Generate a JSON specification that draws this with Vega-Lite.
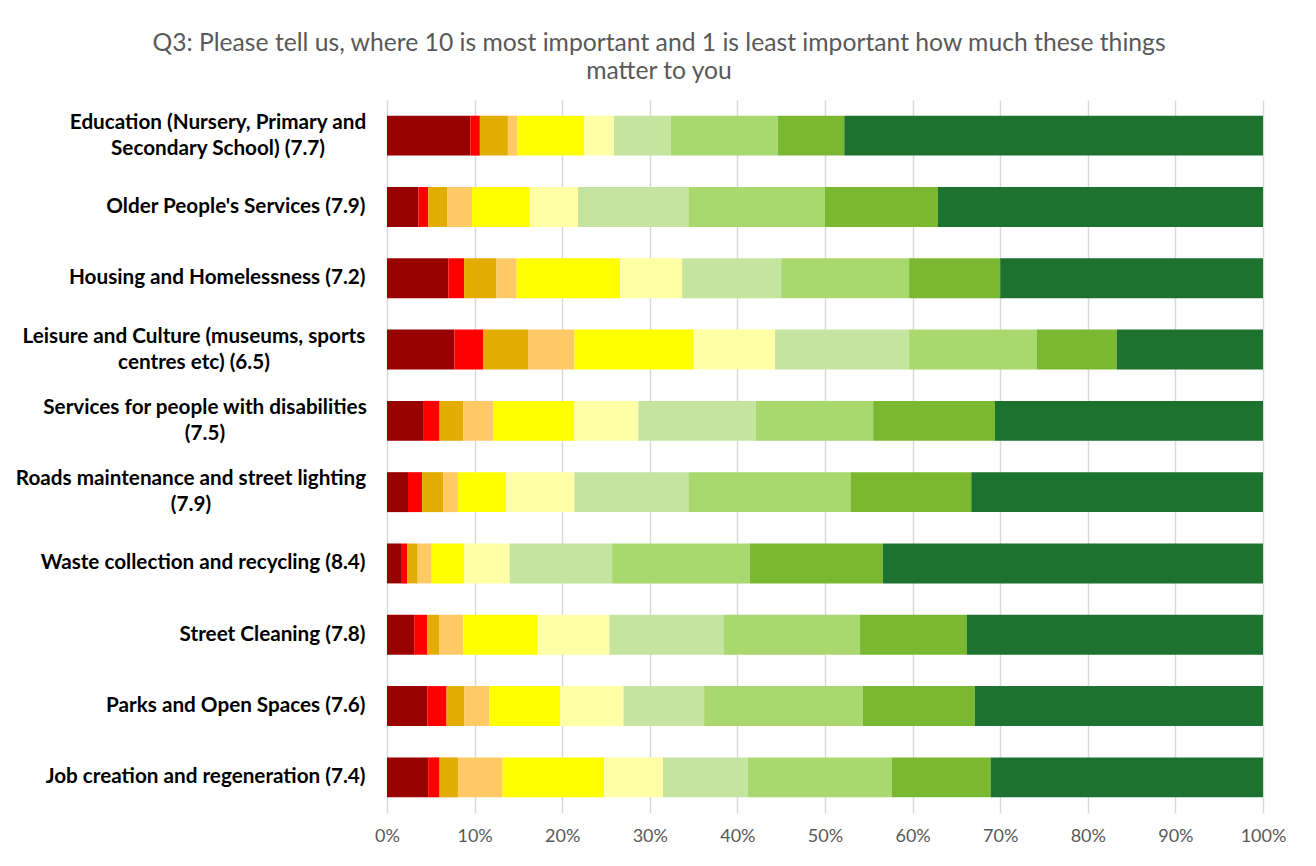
{
  "$schema": "https://vega.github.io/schema/vega-lite/v6.json",
  "width": 876,
  "height": 713,
  "autosize": {"type": "none"},
  "padding": {"left": 387, "top": 100, "right": 53, "bottom": 53},
  "background": "#ffffff",
  "title": {
    "text": ["Q3:  Please tell us, where 10 is most important and 1 is least important how much these things", "matter to you"],
    "font": "Lato",
    "fontSize": 24.7,
    "fontWeight": "normal",
    "color": "#595959",
    "lineHeight": 28,
    "anchor": "middle",
    "frame": "group",
    "dx": -166,
    "offset": 16
  },
  "config": {
    "view": {"stroke": null},
    "axis": {"labelFont": "Lato"}
  },
  "data": {
    "values": [
      {"cat": "Education (Nursery, Primary and\nSecondary School) (7.7)", "score": 1, "pct": 9.5},
      {"cat": "Education (Nursery, Primary and\nSecondary School) (7.7)", "score": 2, "pct": 1.1},
      {"cat": "Education (Nursery, Primary and\nSecondary School) (7.7)", "score": 3, "pct": 3.2},
      {"cat": "Education (Nursery, Primary and\nSecondary School) (7.7)", "score": 4, "pct": 1.1},
      {"cat": "Education (Nursery, Primary and\nSecondary School) (7.7)", "score": 5, "pct": 7.6},
      {"cat": "Education (Nursery, Primary and\nSecondary School) (7.7)", "score": 6, "pct": 3.4},
      {"cat": "Education (Nursery, Primary and\nSecondary School) (7.7)", "score": 7, "pct": 6.5},
      {"cat": "Education (Nursery, Primary and\nSecondary School) (7.7)", "score": 8, "pct": 12.2},
      {"cat": "Education (Nursery, Primary and\nSecondary School) (7.7)", "score": 9, "pct": 7.6},
      {"cat": "Education (Nursery, Primary and\nSecondary School) (7.7)", "score": 10, "pct": 47.8},
      {"cat": "Older People's Services (7.9)", "score": 1, "pct": 3.6},
      {"cat": "Older People's Services (7.9)", "score": 2, "pct": 1.1},
      {"cat": "Older People's Services (7.9)", "score": 3, "pct": 2.2},
      {"cat": "Older People's Services (7.9)", "score": 4, "pct": 2.8},
      {"cat": "Older People's Services (7.9)", "score": 5, "pct": 6.6},
      {"cat": "Older People's Services (7.9)", "score": 6, "pct": 5.5},
      {"cat": "Older People's Services (7.9)", "score": 7, "pct": 12.6},
      {"cat": "Older People's Services (7.9)", "score": 8, "pct": 15.6},
      {"cat": "Older People's Services (7.9)", "score": 9, "pct": 12.9},
      {"cat": "Older People's Services (7.9)", "score": 10, "pct": 37.1},
      {"cat": "Housing and Homelessness (7.2)", "score": 1, "pct": 7.0},
      {"cat": "Housing and Homelessness (7.2)", "score": 2, "pct": 1.8},
      {"cat": "Housing and Homelessness (7.2)", "score": 3, "pct": 3.7},
      {"cat": "Housing and Homelessness (7.2)", "score": 4, "pct": 2.3},
      {"cat": "Housing and Homelessness (7.2)", "score": 5, "pct": 11.8},
      {"cat": "Housing and Homelessness (7.2)", "score": 6, "pct": 7.1},
      {"cat": "Housing and Homelessness (7.2)", "score": 7, "pct": 11.3},
      {"cat": "Housing and Homelessness (7.2)", "score": 8, "pct": 14.6},
      {"cat": "Housing and Homelessness (7.2)", "score": 9, "pct": 10.4},
      {"cat": "Housing and Homelessness (7.2)", "score": 10, "pct": 30.0},
      {"cat": "Leisure and Culture (museums, sports\ncentres etc) (6.5)", "score": 1, "pct": 7.7},
      {"cat": "Leisure and Culture (museums, sports\ncentres etc) (6.5)", "score": 2, "pct": 3.3},
      {"cat": "Leisure and Culture (museums, sports\ncentres etc) (6.5)", "score": 3, "pct": 5.1},
      {"cat": "Leisure and Culture (museums, sports\ncentres etc) (6.5)", "score": 4, "pct": 5.3},
      {"cat": "Leisure and Culture (museums, sports\ncentres etc) (6.5)", "score": 5, "pct": 13.6},
      {"cat": "Leisure and Culture (museums, sports\ncentres etc) (6.5)", "score": 6, "pct": 9.3},
      {"cat": "Leisure and Culture (museums, sports\ncentres etc) (6.5)", "score": 7, "pct": 15.3},
      {"cat": "Leisure and Culture (museums, sports\ncentres etc) (6.5)", "score": 8, "pct": 14.6},
      {"cat": "Leisure and Culture (museums, sports\ncentres etc) (6.5)", "score": 9, "pct": 9.1},
      {"cat": "Leisure and Culture (museums, sports\ncentres etc) (6.5)", "score": 10, "pct": 16.7},
      {"cat": "Services for people with disabilities\n(7.5)", "score": 1, "pct": 4.2},
      {"cat": "Services for people with disabilities\n(7.5)", "score": 2, "pct": 1.8},
      {"cat": "Services for people with disabilities\n(7.5)", "score": 3, "pct": 2.7},
      {"cat": "Services for people with disabilities\n(7.5)", "score": 4, "pct": 3.4},
      {"cat": "Services for people with disabilities\n(7.5)", "score": 5, "pct": 9.3},
      {"cat": "Services for people with disabilities\n(7.5)", "score": 6, "pct": 7.3},
      {"cat": "Services for people with disabilities\n(7.5)", "score": 7, "pct": 13.4},
      {"cat": "Services for people with disabilities\n(7.5)", "score": 8, "pct": 13.4},
      {"cat": "Services for people with disabilities\n(7.5)", "score": 9, "pct": 13.9},
      {"cat": "Services for people with disabilities\n(7.5)", "score": 10, "pct": 30.6},
      {"cat": "Roads maintenance and street lighting\n(7.9)", "score": 1, "pct": 2.4},
      {"cat": "Roads maintenance and street lighting\n(7.9)", "score": 2, "pct": 1.6},
      {"cat": "Roads maintenance and street lighting\n(7.9)", "score": 3, "pct": 2.4},
      {"cat": "Roads maintenance and street lighting\n(7.9)", "score": 4, "pct": 1.7},
      {"cat": "Roads maintenance and street lighting\n(7.9)", "score": 5, "pct": 5.5},
      {"cat": "Roads maintenance and street lighting\n(7.9)", "score": 6, "pct": 7.8},
      {"cat": "Roads maintenance and street lighting\n(7.9)", "score": 7, "pct": 13.0},
      {"cat": "Roads maintenance and street lighting\n(7.9)", "score": 8, "pct": 18.5},
      {"cat": "Roads maintenance and street lighting\n(7.9)", "score": 9, "pct": 13.8},
      {"cat": "Roads maintenance and street lighting\n(7.9)", "score": 10, "pct": 33.3},
      {"cat": "Waste collection and recycling (8.4)", "score": 1, "pct": 1.6},
      {"cat": "Waste collection and recycling (8.4)", "score": 2, "pct": 0.7},
      {"cat": "Waste collection and recycling (8.4)", "score": 3, "pct": 1.2},
      {"cat": "Waste collection and recycling (8.4)", "score": 4, "pct": 1.6},
      {"cat": "Waste collection and recycling (8.4)", "score": 5, "pct": 3.7},
      {"cat": "Waste collection and recycling (8.4)", "score": 6, "pct": 5.2},
      {"cat": "Waste collection and recycling (8.4)", "score": 7, "pct": 11.7},
      {"cat": "Waste collection and recycling (8.4)", "score": 8, "pct": 15.7},
      {"cat": "Waste collection and recycling (8.4)", "score": 9, "pct": 15.2},
      {"cat": "Waste collection and recycling (8.4)", "score": 10, "pct": 43.4},
      {"cat": "Street Cleaning (7.8)", "score": 1, "pct": 3.1},
      {"cat": "Street Cleaning (7.8)", "score": 2, "pct": 1.5},
      {"cat": "Street Cleaning (7.8)", "score": 3, "pct": 1.4},
      {"cat": "Street Cleaning (7.8)", "score": 4, "pct": 2.7},
      {"cat": "Street Cleaning (7.8)", "score": 5, "pct": 8.5},
      {"cat": "Street Cleaning (7.8)", "score": 6, "pct": 8.2},
      {"cat": "Street Cleaning (7.8)", "score": 7, "pct": 13.0},
      {"cat": "Street Cleaning (7.8)", "score": 8, "pct": 15.6},
      {"cat": "Street Cleaning (7.8)", "score": 9, "pct": 12.2},
      {"cat": "Street Cleaning (7.8)", "score": 10, "pct": 33.8},
      {"cat": "Parks and Open Spaces (7.6)", "score": 1, "pct": 4.6},
      {"cat": "Parks and Open Spaces (7.6)", "score": 2, "pct": 2.2},
      {"cat": "Parks and Open Spaces (7.6)", "score": 3, "pct": 2.0},
      {"cat": "Parks and Open Spaces (7.6)", "score": 4, "pct": 2.9},
      {"cat": "Parks and Open Spaces (7.6)", "score": 5, "pct": 8.1},
      {"cat": "Parks and Open Spaces (7.6)", "score": 6, "pct": 7.2},
      {"cat": "Parks and Open Spaces (7.6)", "score": 7, "pct": 9.2},
      {"cat": "Parks and Open Spaces (7.6)", "score": 8, "pct": 18.1},
      {"cat": "Parks and Open Spaces (7.6)", "score": 9, "pct": 12.8},
      {"cat": "Parks and Open Spaces (7.6)", "score": 10, "pct": 32.9},
      {"cat": "Job creation and regeneration (7.4)", "score": 1, "pct": 4.7},
      {"cat": "Job creation and regeneration (7.4)", "score": 2, "pct": 1.3},
      {"cat": "Job creation and regeneration (7.4)", "score": 3, "pct": 2.1},
      {"cat": "Job creation and regeneration (7.4)", "score": 4, "pct": 5.1},
      {"cat": "Job creation and regeneration (7.4)", "score": 5, "pct": 11.6},
      {"cat": "Job creation and regeneration (7.4)", "score": 6, "pct": 6.7},
      {"cat": "Job creation and regeneration (7.4)", "score": 7, "pct": 9.7},
      {"cat": "Job creation and regeneration (7.4)", "score": 8, "pct": 16.4},
      {"cat": "Job creation and regeneration (7.4)", "score": 9, "pct": 11.3},
      {"cat": "Job creation and regeneration (7.4)", "score": 10, "pct": 31.1}
    ]
  },
  "mark": {"type": "bar"},
  "encoding": {
    "y": {
      "field": "cat",
      "type": "nominal",
      "sort": null,
      "title": null,
      "scale": {"paddingInner": 0.44, "paddingOuter": 0.22},
      "axis": {
        "domain": false,
        "ticks": false,
        "grid": false,
        "labelExpr": "split(datum.value, '\\n')",
        "labelFont": "Lato",
        "labelFontSize": 20.7,
        "labelFontWeight": "bold",
        "labelColor": "#000000",
        "labelLineHeight": 26,
        "labelLimit": 0,
        "labelAlign": {
          "condition": {"test": "indexof(datum.value, '\\n') >= 0", "value": "center"},
          "value": "right"
        },
        "labelOffset": {
          "condition": {"test": "indexof(datum.value, '\\n') >= 0", "value": -13},
          "value": 0
        },
        "labelPadding": {
          "condition": [
            {"test": "indexof(datum.value, 'Education') == 0", "value": 169.5},
            {"test": "indexof(datum.value, 'Leisure') == 0", "value": 193.5},
            {"test": "indexof(datum.value, 'Services') == 0", "value": 182.5},
            {"test": "indexof(datum.value, 'Roads') == 0", "value": 196.5}
          ],
          "value": 22
        }
      }
    },
    "x": {
      "field": "pct",
      "type": "quantitative",
      "stack": "normalize",
      "title": null,
      "scale": {"domain": [0, 1], "nice": false},
      "axis": {
        "values": [0, 0.1, 0.2, 0.3, 0.4, 0.5, 0.6, 0.7, 0.8, 0.9, 1],
        "format": ".0%",
        "domain": false,
        "ticks": false,
        "grid": true,
        "gridColor": "#d9d9d9",
        "gridWidth": 1.5,
        "labelFont": "Lato",
        "labelFontSize": 18,
        "labelColor": "#595959",
        "labelFlush": false,
        "labelPadding": 14
      }
    },
    "color": {
      "field": "score",
      "type": "ordinal",
      "scale": {
        "domain": [1, 2, 3, 4, 5, 6, 7, 8, 9, 10],
        "range": ["#990000", "#FF0000", "#E2AC00", "#FFCA66", "#FFFF00", "#FFFFA6", "#C5E4A0", "#A9D86E", "#7BB832", "#1C722E"]
      },
      "legend": null
    },
    "order": {"field": "score", "type": "quantitative", "sort": "ascending"}
  }
}
